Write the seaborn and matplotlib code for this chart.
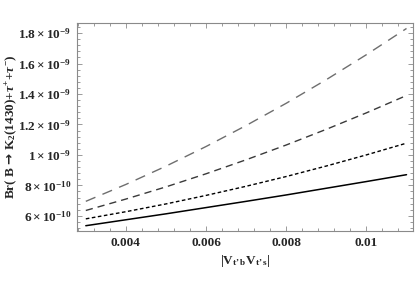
import numpy as np
import pandas as pd
import seaborn as sns
import matplotlib
matplotlib.use("Agg")
from matplotlib import pyplot as plt
from matplotlib.ticker import FixedLocator, MultipleLocator, FixedFormatter

# |V_t'b V_t's| values
vtb = [0.003, 0.004, 0.005, 0.006, 0.007, 0.008, 0.009, 0.010, 0.011]

# branching ratios (x 1e-10)
br_solid = [5.35, 5.74, 6.13, 6.54, 6.95, 7.37, 7.81, 8.25, 8.70]
br_short = [5.80, 6.27, 6.78, 7.34, 7.94, 8.58, 9.27, 10.00, 10.77]
br_medium = [6.35, 7.10, 7.90, 8.76, 9.68, 10.65, 11.68, 12.76, 13.90]
br_long = [6.95, 8.06, 9.26, 10.55, 11.93, 13.39, 14.94, 16.58, 18.30]

yticks = [6e-10, 8e-10, 1e-9, 1.2e-9, 1.4e-9, 1.6e-9, 1.8e-9]
ytick_labels = [r"$6\times10^{-10}$", r"$8\times10^{-10}$", r"$1\times10^{-9}$",
                r"$1.2\times10^{-9}$", r"$1.4\times10^{-9}$", r"$1.6\times10^{-9}$",
                r"$1.8\times10^{-9}$"]
xticks = [0.004, 0.006, 0.008, 0.01]
xtick_labels = ["0.004", "0.006", "0.008", "0.01"]

sns.set_style("ticks")
plt.rcParams['font.family'] = ['Liberation Serif', 'DejaVu Serif']
plt.rcParams['font.weight'] = 'bold'
plt.rcParams['mathtext.fontset'] = 'custom'
plt.rcParams['mathtext.rm'] = 'Liberation Serif:bold'
plt.rcParams['mathtext.bf'] = 'Liberation Serif:bold'
plt.rcParams['mathtext.it'] = 'Liberation Serif:italic'
plt.rcParams['mathtext.sf'] = 'DejaVu Sans'
plt.rcParams['mathtext.default'] = 'bf'

fig = plt.figure(figsize=(4.15, 2.91), dpi=100)
ax = fig.add_axes([0.1855, 0.205, 0.8095, 0.716])

series = [
    (br_solid, "black", "-", 1.1),
    (br_short, "black", (0, (2.6, 1.8)), 1.0),
    (br_medium, "#3a3a3a", (0, (5.2, 3.6)), 1.0),
    (br_long, "#6e6e6e", (0, (7.5, 5.5)), 1.0),
]
for vals, col, ls, lw in series:
    df = pd.DataFrame({"x": vtb, "y": np.array(vals) * 1e-10})
    sns.lineplot(data=df, x="x", y="y", ax=ax, color=col, linewidth=lw)
    ax.lines[-1].set_linestyle(ls)

ax.set_xlim(0.00278, 0.01116)
ax.set_ylim(4.98e-10, 1.866e-9)

ax.xaxis.set_major_locator(FixedLocator(xticks))
ax.xaxis.set_major_formatter(FixedFormatter(xtick_labels))
ax.xaxis.set_minor_locator(MultipleLocator(0.0004))
ax.yaxis.set_major_locator(FixedLocator(yticks))
ax.yaxis.set_major_formatter(FixedFormatter(ytick_labels))
ax.yaxis.set_minor_locator(MultipleLocator(0.4e-10))

ax.tick_params(which="both", direction="in", top=True, right=True,
               color="#8a8a8a", width=0.6, labelsize=9.5)
ax.tick_params(which="major", length=3.5, pad=4)
ax.tick_params(which="minor", length=2)
for lab in ax.get_xticklabels():
    lab.set_fontweight("bold")
for s in ax.spines.values():
    s.set_color("#8a8a8a")
    s.set_linewidth(0.8)

ax.set_xlabel(r"|V$_{\mathbf{t’\,b}}$V$_{\mathbf{t’\,s}}$|", fontsize=9.5,
              fontweight="bold", labelpad=3)
ax.set_ylabel(r"Br( B $\mathsf{→}$ K$_2$(1430)+$\mathit{\tau}^{+}$+$\mathit{\tau}^{-}$)",
              fontsize=9.5, fontweight="bold")
ax.yaxis.set_label_coords(-0.172, 0.5)

fig.savefig("out.png", dpi=100)
